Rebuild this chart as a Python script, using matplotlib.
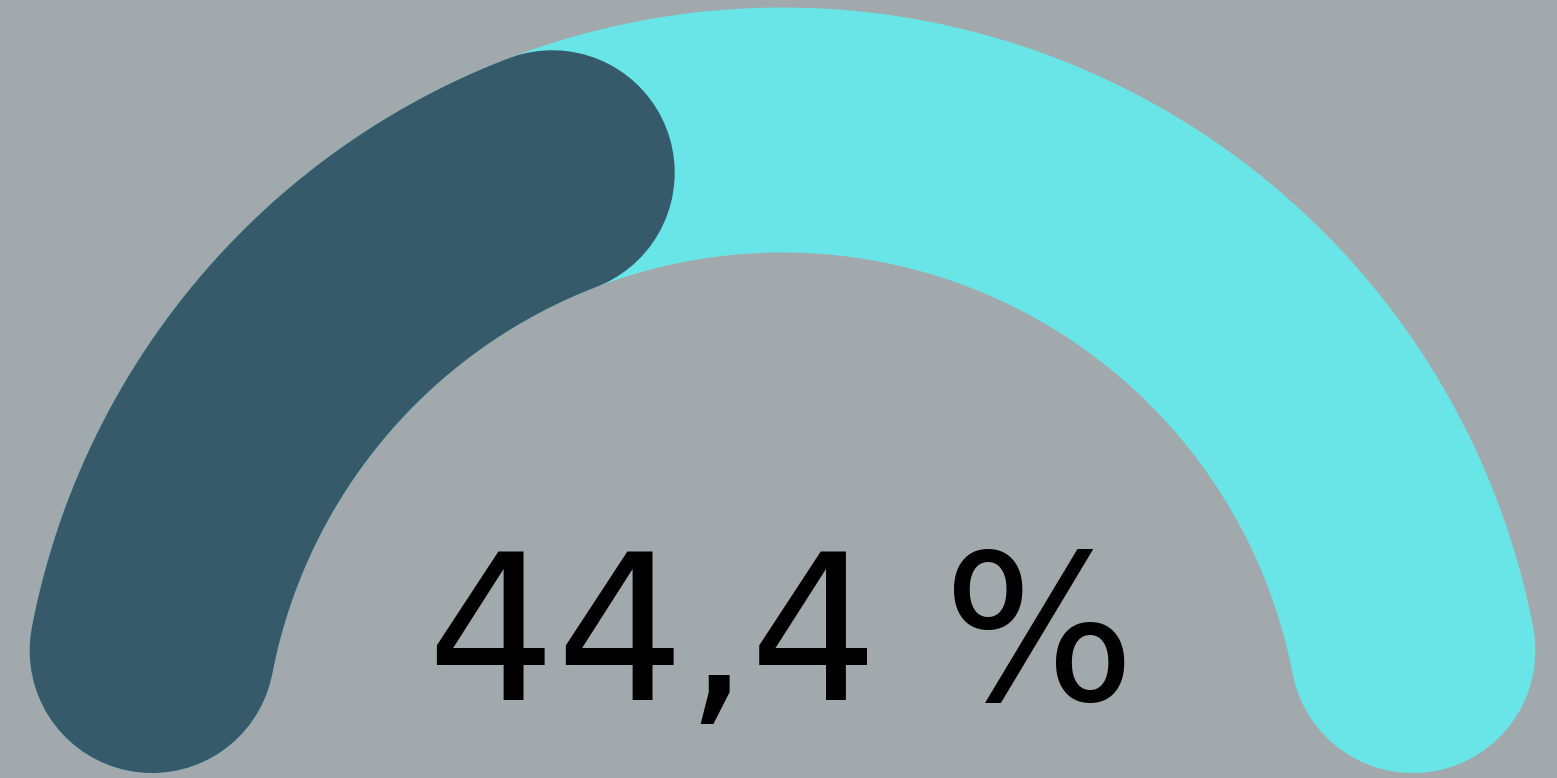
import numpy as np
import matplotlib
matplotlib.use("Agg")
import matplotlib.pyplot as plt

# Data
value = 44.4
vmin = 0.0
vmax = 100.0
label_text = "44,4 %"

# Colours
bg_color = "#A1A9AC"
track_color = "#69E5E8"
value_color = "#365A6A"

W, H = 1557, 778
fig = plt.figure(figsize=(W / 100, H / 100), dpi=100, facecolor=bg_color)
ax = fig.add_axes([0, 0, 1, 1])
ax.set_facecolor(bg_color)
ax.set_xlim(0, W)
ax.set_ylim(H, 0)
ax.set_aspect("equal")
ax.axis("off")

# gauge geometry (pixel coords)
cx, cy = 782.5, 772.0
R = 642.0
stroke = 245.0
cap = stroke / 2
a_start = np.deg2rad(169.1)
a_end = np.deg2rad(10.9)
sweep = a_start - a_end

lw_pt = stroke * 72 / 100


def arc(a0, a1):
    t = np.linspace(a0, a1, 400)
    return cx + R * np.cos(t), cy - R * np.sin(t)


# track
x, y = arc(a_start, a_end)
ax.plot(x, y, color=track_color, lw=lw_pt, solid_capstyle="round")

# value arc: fraction measured over the full stroke length including caps
frac = (value - vmin) / (vmax - vmin)
total_len = sweep * R + 2 * cap
val_len = frac * total_len - 2 * cap
a_val = a_start - max(val_len, 0) / R
x, y = arc(a_start, a_val)
ax.plot(x, y, color=value_color, lw=lw_pt, solid_capstyle="round")

ax.text(781, 700, label_text, ha="center", va="baseline",
        fontsize=146, color="black", family="DejaVu Sans")

fig.savefig("out.png", dpi=100, facecolor=bg_color)
